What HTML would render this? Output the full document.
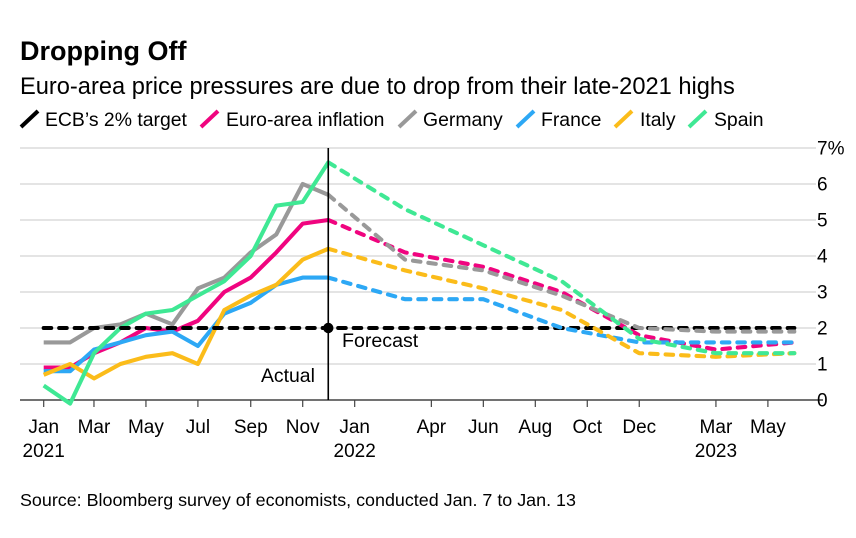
<!DOCTYPE html>
<html><head><meta charset="utf-8"><title>Dropping Off</title>
<style>
html,body{margin:0;padding:0;background:#fff}
svg{display:block}
text{font-family:"Liberation Sans",sans-serif;fill:#000}
</style></head>
<body>
<svg id="chart" width="856" height="538" viewBox="0 0 856 538" xmlns="http://www.w3.org/2000/svg">
<rect width="856" height="538" fill="#fff"/>
<text x="20" y="60" font-size="27" font-weight="700">Dropping Off</text>
<text x="20" y="94" font-size="23.65">Euro-area price pressures are due to drop from their late-2021 highs</text>
<g font-size="19.4">
<g><line x1="21" y1="127" x2="38" y2="111" stroke="#000" stroke-width="4"/><text x="45" y="126">ECB’s 2% target</text></g>
<g><line x1="201" y1="127" x2="218" y2="111" stroke="#f0047f" stroke-width="4"/><text x="226" y="126">Euro-area inflation</text></g>
<g><line x1="399" y1="127" x2="416" y2="111" stroke="#999" stroke-width="4"/><text x="423" y="126">Germany</text></g>
<g><line x1="517" y1="127" x2="534" y2="111" stroke="#2da8f5" stroke-width="4"/><text x="541" y="126">France</text></g>
<g><line x1="615" y1="127" x2="632" y2="111" stroke="#fbbc1a" stroke-width="4"/><text x="640" y="126">Italy</text></g>
<g><line x1="689" y1="127" x2="706" y2="111" stroke="#3fe894" stroke-width="4"/><text x="714" y="126">Spain</text></g>
</g>
<g id="grid"></g>
<g id="xaxis"></g>
<g id="yaxis"></g>
<g id="actual"></g>
<g id="target"></g>
<g id="forecast"></g>
<g id="divider"></g>
<text x="261" y="382" font-size="19.4">Actual</text>
<text x="342" y="347" font-size="19.6">Forecast</text>
<text x="20" y="506" font-size="17.9">Source: Bloomberg survey of economists, conducted Jan. 7 to Jan. 13</text>
</svg>
<script>
const actualDates = ['2021-01','2021-02','2021-03','2021-04','2021-05','2021-06','2021-07','2021-08','2021-09','2021-10','2021-11','2021-12'];
const forecastDates = ['2021-12','2022-03','2022-06','2022-09','2022-12','2023-03','2023-06'];
const targetDates = ['2021-01','2023-06'];
const targetValues = [2,2];
const euroActual = [0.9,0.9,1.3,1.6,2.0,1.9,2.2,3.0,3.4,4.1,4.9,5.0];
const germanyActual = [1.6,1.6,2.0,2.1,2.4,2.1,3.1,3.4,4.1,4.6,6.0,5.7];
const franceActual = [0.8,0.8,1.4,1.6,1.8,1.9,1.5,2.4,2.7,3.2,3.4,3.4];
const italyActual = [0.7,1.0,0.6,1.0,1.2,1.3,1.0,2.5,2.9,3.2,3.9,4.2];
const spainActual = [0.4,-0.1,1.3,2.0,2.4,2.5,2.9,3.3,4.0,5.4,5.5,6.6];
const euroForecast = [5.0,4.1,3.7,3.0,1.8,1.4,1.6];
const germanyForecast = [5.7,3.9,3.6,2.9,2.0,1.9,1.9];
const franceForecast = [3.4,2.8,2.8,2.0,1.6,1.6,1.6];
const italyForecast = [4.2,3.6,3.1,2.5,1.3,1.2,1.3];
const spainForecast = [6.6,5.3,4.3,3.3,1.7,1.3,1.3];
const yTicks = [0,1,2,3,4,5,6,7];
const xTickDates = ['2021-01','2021-03','2021-05','2021-07','2021-09','2021-11','2022-01','2022-04','2022-06','2022-08','2022-10','2022-12','2023-03','2023-05'];
const xTickMonths = ['Jan','Mar','May','Jul','Sep','Nov','Jan','Apr','Jun','Aug','Oct','Dec','Mar','May'];
const xTickYears = ['2021','','','','','','2022','','','','','','2023',''];

const NS = 'http://www.w3.org/2000/svg';
const DAY = 86400000;
function parseDate(s){const p=s.split('-');return Date.UTC(+p[0],+p[1]-1,1);}
const T0 = parseDate('2021-01');
function xScale(s){return 43.7+(parseDate(s)-T0)/DAY*0.852;}
function yScale(v){return 400-v*36;}
function make(tag,attrs,parent){
  const el=document.createElementNS(NS,tag);
  for(const k in attrs){el.setAttribute(k,attrs[k]);}
  parent.appendChild(el);
  return el;
}
function linePath(dates,values){
  return dates.map((d,i)=>(i?'L':'M')+xScale(d).toFixed(1)+' '+yScale(values[i]).toFixed(1)).join(' ');
}
const grid=document.getElementById('grid');
const xaxis=document.getElementById('xaxis');
const yaxis=document.getElementById('yaxis');
yTicks.forEach(function(v){
  if(v>0){
    const g=make('line',{x1:20,x2:816,y1:yScale(v),y2:yScale(v),stroke:'#dcdcdc','stroke-width':1.6},grid);
    
    
  }
  const t=make('text',{x:817,y:yScale(v)+6.5,'font-size':19},yaxis);
  t.textContent=v===7?'7%':String(v);
  
  
});
const base=make('line',{x1:20,x2:823,y1:400,y2:400,stroke:'#444','stroke-width':1.4},xaxis);


xTickDates.forEach(function(d,i){
  const x=xScale(d);
  const tk=make('line',{x1:x,x2:x,y1:400,y2:407,stroke:'#444','stroke-width':1.2},xaxis);
  
  
  const t=make('text',{x:x,y:433,'font-size':19,'text-anchor':'middle'},xaxis);
  t.textContent=xTickMonths[i];
  
  
  if(xTickYears[i]){
    const y=make('text',{x:x,y:457,'font-size':19,'text-anchor':'middle'},xaxis);
    y.textContent=xTickYears[i];
    
    
  }
});
const actualGroup=document.getElementById('actual');
const forecastGroup=document.getElementById('forecast');
function drawActual(values,color,name){
  const p=make('path',{d:linePath(actualDates,values),fill:'none',stroke:color,'stroke-width':4.1,'stroke-linejoin':'round'},actualGroup);
  
  
}
function drawForecast(values,color,name){
  const p=make('path',{d:linePath(forecastDates,values),fill:'none',stroke:color,'stroke-width':4.1,'stroke-dasharray':'7.5 8','stroke-linecap':'round','stroke-linejoin':'round'},forecastGroup);
  
  
}
drawActual(euroActual,'#f0047f','euro-area-actual-line');
drawActual(germanyActual,'#999999','germany-actual-line');
drawActual(franceActual,'#2da8f5','france-actual-line');
drawActual(italyActual,'#fbbc1a','italy-actual-line');
drawActual(spainActual,'#3fe894','spain-actual-line');
const tgt=make('path',{d:linePath(targetDates,targetValues),fill:'none',stroke:'#000','stroke-width':4.1,'stroke-dasharray':'7.5 8','stroke-linecap':'round'},document.getElementById('target'));


drawForecast(euroForecast,'#f0047f','euro-area-forecast-line');
drawForecast(germanyForecast,'#999999','germany-forecast-line');
drawForecast(franceForecast,'#2da8f5','france-forecast-line');
drawForecast(italyForecast,'#fbbc1a','italy-forecast-line');
drawForecast(spainForecast,'#3fe894','spain-forecast-line');
const divGroup=document.getElementById('divider');
const divX=xScale('2021-12');
const vline=make('line',{x1:divX,x2:divX,y1:yScale(7),y2:400,stroke:'#000','stroke-width':1.6},divGroup);


const dot=make('circle',{cx:divX,cy:yScale(2),r:5.2,fill:'#000'},divGroup);


</script>
</body></html>
